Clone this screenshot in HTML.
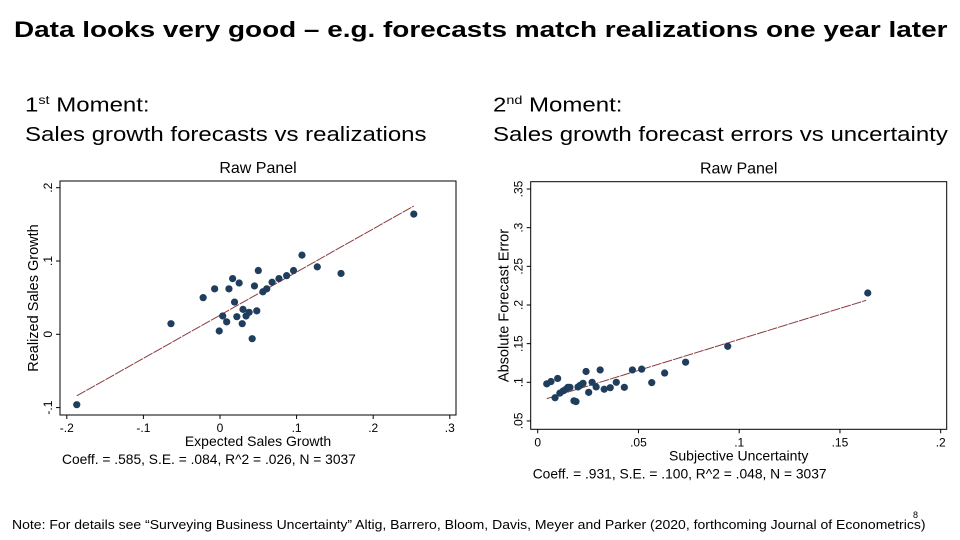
<!DOCTYPE html>
<html><head><meta charset="utf-8"><style>
body{margin:0;width:960px;height:540px;background:#fff;overflow:hidden;font-family:"Liberation Sans",Arial,sans-serif;position:relative}
.t{position:absolute;white-space:nowrap;transform-origin:0 0}
</style></head><body>
<div class="t" style="left:14px;top:17px;font-size:22.5px;font-weight:bold;transform:scaleX(1.24)">Data looks very good – e.g. forecasts match realizations one year later</div>
<div class="t" style="left:25px;top:86px;font-size:20px;line-height:29px;transform:scaleX(1.2)">1<sup style="font-size:12px">st</sup> Moment:<br>Sales growth forecasts vs realizations</div>
<div class="t" style="left:493px;top:86px;font-size:20px;line-height:29px;transform:scaleX(1.2)">2<sup style="font-size:12px">nd</sup> Moment:<br>Sales growth forecast errors vs uncertainty</div>
<div class="t" style="left:12px;top:518px;font-size:12.5px;transform:scaleX(1.12)">Note: For details see “Surveying Business Uncertainty” Altig, Barrero, Bloom, Davis, Meyer and Parker (2020, forthcoming Journal of Econometrics)</div>
<div class="t" style="left:913px;top:510px;font-size:9px">8</div>
<svg id="svg" width="960" height="540" style="position:absolute;left:0;top:0"></svg>
<script>
// Left chart data
const leftX=[-.187,-.064,-.022,-.007,-.001,.0035,.0087,.0117,.0165,.019,.022,.025,.029,.030,.034,.038,.042,.045,.048,.050,.056,.061,.068,.077,.087,.096,.107,.127,.158,.253];
const leftY=[-.096,.0145,.050,.062,.0045,.025,.017,.062,.076,.044,.024,.070,.0145,.034,.025,.030,-.006,.066,.032,.087,.058,.062,.071,.076,.080,.087,.108,.092,.083,.164];
const leftFitX=[-.187,.253];
const leftFitY=[-.084,.175];
const leftXTicks=[-.2,-.1,0,.1,.2,.3];
const leftXLabels=["-.2","-.1","0",".1",".2",".3"];
const leftYTicks=[-.1,0,.1,.2];
const leftYLabels=["-.1","0",".1",".2"];
// Right chart data
const rightX=[.0045,.0066,.0099,.0086,.011,.0127,.014,.015,.016,.018,.019,.020,.021,.0225,.024,.0253,.027,.029,.031,.033,.036,.039,.043,.047,.0516,.0566,.063,.0734,.0943,.1638];
const rightY=[.098,.101,.105,.080,.086,.089,.091,.0935,.0935,.076,.075,.094,.096,.0987,.114,.087,.100,.094,.116,.091,.093,.100,.0935,.116,.117,.0996,.112,.126,.1466,.2155];
const rightFitX=[.0045,.163];
const rightFitY=[.0789,.206];
const rightXTicks=[0,.05,.1,.15,.2];
const rightXLabels=["0",".05",".1",".15",".2"];
const rightYTicks=[.05,.1,.15,.2,.25,.3,.35];
const rightYLabels=[".05",".1",".15",".2",".25",".3",".35"];

const NS="http://www.w3.org/2000/svg";
const svg=document.getElementById('svg');
function mk(tag,attrs,parent){const e=document.createElementNS(NS,tag);for(const k in attrs)e.setAttribute(k,attrs[k]);(parent||svg).appendChild(e);return e;}
function chart(cfg){
  const g=mk('g',{});
  
  
  const sx=v=>cfg.px0+(v-cfg.x0)*(cfg.px1-cfg.px0)/(cfg.x1-cfg.x0);
  const sy=v=>cfg.py0+(v-cfg.y0)*(cfg.py1-cfg.py0)/(cfg.y1-cfg.y0);
  const f=mk('rect',{x:cfg.bx0,y:cfg.by0,width:cfg.bx1-cfg.bx0,height:cfg.by1-cfg.by0,fill:'none',stroke:'#000','stroke-width':1},g);
  
  
  const tt=mk('text',{x:(cfg.bx0+cfg.bx1)/2,y:cfg.by0-8,'text-anchor':'middle','font-size':16},g);tt.textContent='Raw Panel';
  
  
  cfg.xt.forEach((v,i)=>{const x=sx(v);
    mk('line',{x1:x,x2:x,y1:cfg.by1,y2:cfg.by1+4,stroke:'#000'},g);
    const t=mk('text',{x:x,y:cfg.by1+17,'text-anchor':'middle','font-size':12},g);t.textContent=cfg.xl[i];
    
    });
  cfg.yt.forEach((v,i)=>{const y=sy(v);
    mk('line',{x1:cfg.bx0-4,x2:cfg.bx0,y1:y,y2:y,stroke:'#000'},g);
    const t=mk('text',{x:0,y:0,'text-anchor':'middle','font-size':12,transform:`translate(${cfg.bx0-8},${y}) rotate(-90)`},g);t.textContent=cfg.yl[i];
    
    });
  const xa=mk('text',{x:(cfg.bx0+cfg.bx1)/2,y:cfg.by1+31,'text-anchor':'middle','font-size':14},g);xa.textContent=cfg.xtitle;
  
  
  const ya=mk('text',{x:0,y:0,'text-anchor':'middle','font-size':14.5,transform:`translate(${cfg.bx0-22},${(cfg.by0+cfg.by1)/2}) rotate(-90)`},g);ya.textContent=cfg.ytitle;
  
  
  const st=mk('text',{x:cfg.bx0+2,y:cfg.by1+49,'font-size':13.8},g);st.textContent=cfg.stats;
  
  
  const ln=mk('line',{x1:sx(cfg.fx[0]),y1:sy(cfg.fy[0]),x2:sx(cfg.fx[1]),y2:sy(cfg.fy[1]),stroke:'#8a3a42','stroke-width':1,'stroke-dasharray':'10 1'},g);
  
  
  cfg.xs.forEach((v,i)=>{const c=mk('circle',{cx:sx(v),cy:sy(cfg.ys[i]),r:3.6,fill:'#1f3d5c'},g);
    
    });
}
chart({name:'left-scatter',x0:0,x1:.1,px0:220,px1:296.6,y0:0,y1:.1,py0:334.3,py1:261,bx0:60,bx1:456,by0:181,by1:415,
  xt:leftXTicks,xl:leftXLabels,yt:leftYTicks,yl:leftYLabels,xs:leftX,ys:leftY,fx:leftFitX,fy:leftFitY,
  xtitle:'Expected Sales Growth',ytitle:'Realized Sales Growth',stats:'Coeff. = .585, S.E. = .084, R^2 = .026, N = 3037'});
chart({name:'right-scatter',x0:0,x1:.2,px0:537.7,px1:940.7,y0:.1,y1:.35,py0:382.3,py1:189,bx0:530.7,bx1:946.7,by0:181.7,by1:429.3,
  xt:rightXTicks,xl:rightXLabels,yt:rightYTicks,yl:rightYLabels,xs:rightX,ys:rightY,fx:rightFitX,fy:rightFitY,
  xtitle:'Subjective Uncertainty',ytitle:'Absolute Forecast Error',stats:'Coeff. = .931, S.E. = .100, R^2 = .048, N = 3037'});
</script>
</body></html>
